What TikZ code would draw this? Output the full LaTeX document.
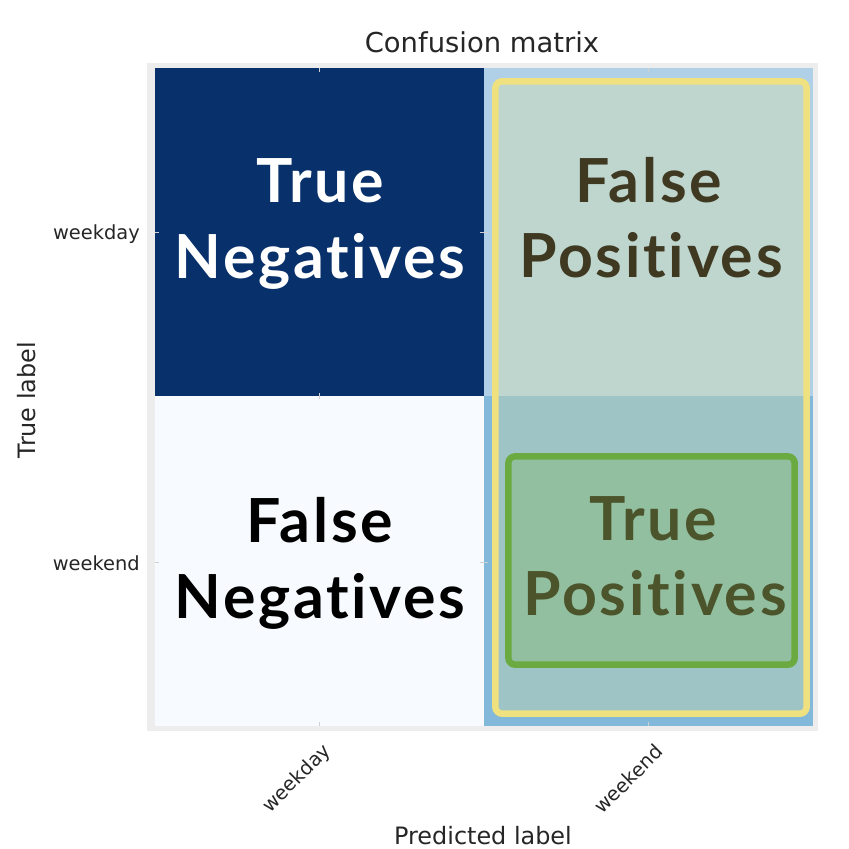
\documentclass[tikz,border=0pt]{standalone}
\usepackage{fontspec}
\setmainfont{DejaVu Sans}
\newfontfamily\bigfont{Lato}[Ligatures={NoCommon,NoRequired,NoContextual}, LetterSpace=4.5]
\definecolor{navy}{HTML}{08306B}
\definecolor{tr}{HTML}{AFD0E6}
\definecolor{br}{HTML}{82B9DA}
\definecolor{bl}{HTML}{F7FBFF}
\definecolor{frame}{HTML}{EDEDED}
\definecolor{ytop}{HTML}{BFD6CF}
\definecolor{ybot}{HTML}{9FC4C5}
\definecolor{ginside}{HTML}{92BFA0}
\definecolor{yline}{HTML}{F0E180}
\definecolor{gline}{HTML}{6AAA40}
\definecolor{fptext}{HTML}{3F3922}
\definecolor{tptext}{HTML}{4B542A}
\definecolor{txtgray}{HTML}{262626}
\definecolor{tickgray}{HTML}{D0D0D0}
\tikzset{
  bigtext/.style={font=\bigfont\bfseries\fontsize{61}{70}\selectfont, inner sep=0pt, anchor=base},
  axtext/.style={font=\fontsize{24}{28}\selectfont, text=txtgray, inner sep=0pt},
  ticktext/.style={font=\fontsize{19.5}{22}\selectfont, text=txtgray, inner sep=0pt},
  tickmark/.style={draw=tickgray, line width=0.8bp}
}
\begin{document}
\begin{tikzpicture}[x=1bp,y=-1bp]
\useasboundingbox (0,0) rectangle (849,849);
\fill[white] (0,0) rectangle (849,849);
% frame
\fill[frame] (147,63) rectangle (818,731);
% cells
\fill[navy] (155,68) rectangle (484,396);
\fill[tr] (484,68) rectangle (813,396);
\fill[bl] (155,396) rectangle (484,726);
\fill[br] (484,396) rectangle (813,726);
% ticks
\foreach \xx in {319,648} {
  \draw[tickmark] (\xx,68) -- (\xx,72);
  \draw[tickmark] (\xx,722) -- (\xx,726);
  \draw[tickmark] (\xx,393) -- (\xx,399);
}
\foreach \yy in {232,562} {
  \draw[tickmark] (155,\yy) -- (159,\yy);
  \draw[tickmark] (480,\yy) -- (488,\yy);
}
% yellow box interior
\begin{scope}
  \clip[rounded corners=7bp] (495.3,81.3) rectangle (806.7,713.7);
  \fill[ytop] (490,75) rectangle (812,396);
  \fill[ybot] (490,396) rectangle (812,720);
\end{scope}
\draw[yline, line width=6.5bp, rounded corners=7bp] (495.3,81.3) rectangle (806.7,713.7);
% green box
\draw[gline, fill=ginside, line width=6.5bp, rounded corners=7bp] (508.3,456.3) rectangle (794.7,664.7);
% big texts
\node[bigtext, text=white] (tn1) at (320,202) {True};
\node[bigtext, text=white] (tn2) at (320,278) {Negatives};
\node[bigtext, text=fptext] (fp1) at (649,202) {False};
\node[bigtext, text=fptext] (fp2) at (651,277) {Positives};
\node[bigtext, text=black] (fn1) at (320,542) {False};
\node[bigtext, text=black] (fn2) at (320,618) {Negatives};
\node[bigtext, text=tptext] (tp1) at (653,540) {True};
\node[bigtext, text=tptext] (tp2) at (655,615) {Positives};
% title and axis labels
\node[font=\fontsize{27.5}{30}\selectfont, text=txtgray, inner sep=0pt, anchor=base] (title) at (482,52) {Confusion matrix};
\node[axtext, anchor=base] (xlab) at (483,844) {Predicted label};
\node[axtext, anchor=base, rotate=90] (ylab) at (35,400) {True label};
% tick labels
\node[ticktext, anchor=base east] (yt1) at (140,239) {weekday};
\node[ticktext, anchor=base east] (yt2) at (140,570) {weekend};
\node[ticktext, anchor=east, rotate=45] (xt1) at (328,748) {weekday};
\node[ticktext, anchor=east, rotate=45] (xt2) at (659,748) {weekend};
\end{tikzpicture}
\end{document}
